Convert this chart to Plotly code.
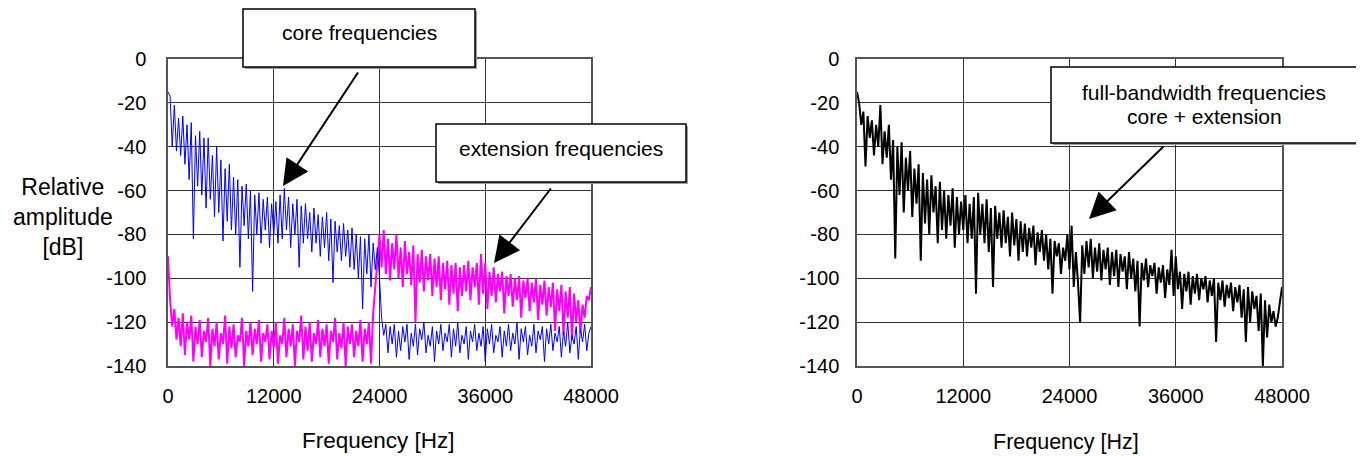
import plotly.graph_objects as go

# ---------------- data ----------------
FREQ_STEP_HZ = 240  # sampling grid of the spectra

core_db = [
    -15, -17, -40, -21, -42, -27, -44, -26, -48, -30,
    -55, -29, -82, -35, -58, -33, -62, -36, -68, -36,
    -64, -44, -72, -40, -70, -46, -83, -50, -74, -48,
    -78, -54, -80, -55, -95, -58, -76, -57, -82, -60,
    -106, -62, -80, -61, -84, -64, -78, -63, -86, -66,
    -80, -65, -84, -62, -82, -59, -78, -63, -86, -66,
    -80, -64, -95, -67, -84, -66, -82, -70, -88, -68,
    -84, -71, -90, -72, -86, -70, -92, -73, -102, -74,
    -88, -76, -92, -75, -90, -78, -95, -77, -96, -80,
    -100, -81, -114, -82, -98, -80, -104, -84, -96, -86,
    -100, -118, -126, -121, -134, -122, -130, -121, -136, -124,
    -133, -122, -129, -121, -137, -125, -131, -121, -135, -123,
    -128, -120, -134, -126, -131, -122, -138, -124, -130, -121,
    -133, -125, -129, -121, -136, -123, -131, -120, -134, -126,
    -130, -122, -137, -124, -129, -121, -133, -125, -131, -122,
    -138, -123, -130, -121, -134, -126, -129, -122, -136, -124,
    -131, -121, -133, -125, -130, -120, -137, -123, -129, -122,
    -135, -126, -131, -121, -134, -124, -128, -122, -138, -123,
    -130, -121, -133, -125, -129, -122, -136, -124, -131, -120,
    -134, -126, -130, -122, -137, -123, -129, -121, -133, -125,
    -122,
]

extension_db = [
    -90, -110, -122, -114, -128, -118, -131, -116, -135, -120,
    -128, -117, -138, -122, -130, -119, -136, -124, -129, -118,
    -140, -123, -131, -120, -137, -125, -130, -117, -139, -122,
    -132, -121, -136, -126, -129, -118, -140, -124, -131, -120,
    -135, -123, -130, -119, -138, -125, -129, -121, -137, -124,
    -132, -120, -139, -126, -130, -118, -136, -123, -131, -121,
    -140, -124, -129, -117, -137, -122, -133, -120, -138, -125,
    -130, -119, -136, -123, -131, -121, -139, -124, -129, -118,
    -137, -125, -132, -120, -140, -122, -130, -121, -136, -124,
    -131, -119, -138, -123, -130, -120, -139, -116, -104, -92,
    -80, -95, -78, -98, -82, -101, -84, -96, -80, -100,
    -86, -104, -83, -98, -88, -103, -85, -120, -89, -102,
    -87, -106, -90, -101, -89, -108, -91, -104, -90, -110,
    -93, -105, -92, -112, -94, -107, -93, -115, -95, -108,
    -94, -106, -92, -110, -95, -104, -93, -112, -89, -107,
    -93, -114, -97, -108, -95, -111, -98, -106, -97, -116,
    -99, -108, -98, -113, -100, -110, -99, -118, -101, -109,
    -100, -115, -102, -111, -100, -119, -103, -112, -101, -117,
    -104, -113, -102, -124, -105, -115, -103, -126, -106, -118,
    -104, -128, -107, -120, -110, -125, -112, -118, -108, -110,
    -104,
]

full_db = [
    -15, -20, -30, -24, -49, -26, -36, -28, -44, -30,
    -40, -21, -48, -33, -45, -30, -55, -37, -91, -40,
    -62, -38, -70, -45, -60, -42, -72, -50, -66, -48,
    -92, -52, -75, -55, -80, -53, -70, -58, -84, -56,
    -78, -60, -82, -62, -76, -59, -86, -63, -80, -65,
    -78, -62, -84, -66, -82, -63, -107, -61, -80, -66,
    -84, -64, -88, -68, -104, -67, -82, -70, -86, -69,
    -84, -72, -90, -70, -85, -73, -92, -74, -88, -75,
    -90, -77, -86, -76, -94, -79, -88, -78, -92, -80,
    -96, -82, -107, -83, -90, -84, -98, -86, -92, -80,
    -96, -76, -104, -88, -102, -120, -85, -98, -83, -95,
    -82, -100, -86, -97, -84, -101, -87, -96, -86, -103,
    -88, -99, -87, -104, -89, -97, -90, -105, -88, -100,
    -91, -106, -92, -122, -93, -101, -91, -104, -94, -99,
    -93, -107, -95, -102, -94, -109, -96, -103, -87, -108,
    -90, -105, -97, -114, -98, -106, -97, -112, -99, -107,
    -98, -110, -100, -105, -99, -111, -101, -108, -100, -129,
    -102, -110, -101, -113, -103, -109, -102, -115, -104, -111,
    -103, -118, -105, -129, -104, -120, -106, -114, -108, -124,
    -107, -140, -110, -127, -112, -120, -115, -122, -118, -112,
    -104,
]

freq_hz = [i * FREQ_STEP_HZ for i in range(len(core_db))]

x_ticks = [0, 12000, 24000, 36000, 48000]
y_ticks = [0, -20, -40, -60, -80, -100, -120, -140]

# ---------------- layout helpers ----------------
# The page body has an 8px margin, so the figure is drawn 8px in from the
# top-left corner of the window; coordinates below are window pixels.
OFF = 8
W, H = 1364 - OFF, 456 - OFF
def px(x):
    return (x - OFF) / W
def py(y):
    return 1 - (y - OFF) / H

FONT = "Liberation Sans, Arial, sans-serif"

fig = go.Figure()
fig.add_trace(go.Scatter(x=freq_hz, y=extension_db, mode="lines",
                         line=dict(color="#FF00FF", width=2), xaxis="x", yaxis="y",
                         showlegend=False))
fig.add_trace(go.Scatter(x=freq_hz, y=core_db, mode="lines",
                         line=dict(color="#0000FF", width=1), xaxis="x", yaxis="y",
                         showlegend=False))
fig.add_trace(go.Scatter(x=freq_hz, y=full_db, mode="lines",
                         line=dict(color="#000000", width=2), xaxis="x2", yaxis="y2",
                         showlegend=False))

ydom = [py(366), py(59)]
common_x = dict(range=[0, 48000], tickvals=x_ticks, ticktext=[str(v) for v in x_ticks],
                showgrid=True, gridcolor="#333333", gridwidth=1, zeroline=False,
                showline=True, linecolor="#555555", linewidth=1.5, mirror=True,
                ticks="", ticklabelstandoff=11, color="#000000", automargin=False)
common_y = dict(range=[-140, 0], tickvals=y_ticks, ticktext=[str(v) for v in y_ticks],
                showgrid=True, gridcolor="#333333", gridwidth=1, zeroline=False,
                showline=True, linecolor="#555555", linewidth=1.5, mirror=True,
                ticks="", color="#000000", automargin=False)

fig.update_layout(
    template="none",
    width=W, height=H, autosize=False,
    margin=dict(l=0, r=0, t=0, b=0, pad=0, autoexpand=False),
    paper_bgcolor="white", plot_bgcolor="white",
    font=dict(family=FONT, color="#000000"),
    xaxis=dict(domain=[px(168), px(591)], anchor="y", tickfont=dict(size=20, family=FONT), **common_x),
    yaxis=dict(domain=ydom, anchor="x", tickfont=dict(size=20, family=FONT), ticklabelstandoff=16, **common_y),
    xaxis2=dict(domain=[px(857), px(1282)], anchor="y2", tickfont=dict(size=20, family=FONT), **common_x),
    yaxis2=dict(domain=ydom, anchor="x2", tickfont=dict(size=20, family=FONT), ticklabelstandoff=12, **common_y),
)

# ---------------- callout boxes ----------------
boxes = [(243, 9, 475, 67), (436, 124, 686, 182), (1051, 67, 1358, 143)]
shapes = []
for (x0, y0, x1, y1) in boxes:
    shapes.append(dict(type="rect", xref="paper", yref="paper",
                       x0=px(x0 + 2), x1=px(x1 + 2), y0=py(y1 + 2), y1=py(y0 + 2),
                       line=dict(width=0), fillcolor="#9a9a9a", layer="above"))
    shapes.append(dict(type="rect", xref="paper", yref="paper",
                       x0=px(x0), x1=px(x1), y0=py(y1), y1=py(y0),
                       line=dict(color="#000000", width=1.5), fillcolor="white", layer="above"))
fig.update_layout(shapes=shapes)

def text(x, y, s, size, **kw):
    fig.add_annotation(xref="paper", yref="paper", x=px(x), y=py(y), text=s,
                       showarrow=False, xanchor="center", yanchor="middle",
                       font=dict(size=size, family=FONT, color="#000000"), **kw)

text(359, 33, "core frequencies", 21)
text(561, 148, "extension frequencies", 21)
text(1204, 93, "full-bandwidth frequencies", 21)
text(1204, 116, "core + extension", 21)

# arrows: (tail_x, tail_y, tip_x, tip_y)
arrows = [(359, 71, 283, 186), (552, 187, 494, 263), (1165, 145, 1089, 219)]
for (tx, ty, hx, hy) in arrows:
    fig.add_annotation(xref="paper", yref="paper", x=px(hx), y=py(hy),
                       ax=tx - hx, ay=ty - hy, text="", showarrow=True,
                       arrowhead=2, arrowsize=2.6, arrowwidth=2, arrowcolor="#000000",
                       standoff=0)

# axis titles
text(63, 217, "Relative<br>amplitude<br>[dB]", 23)
text(378, 440, "Frequency [Hz]", 22.5)
text(1066, 442, "Frequency [Hz]", 21.5)

fig.write_html("out.html")
